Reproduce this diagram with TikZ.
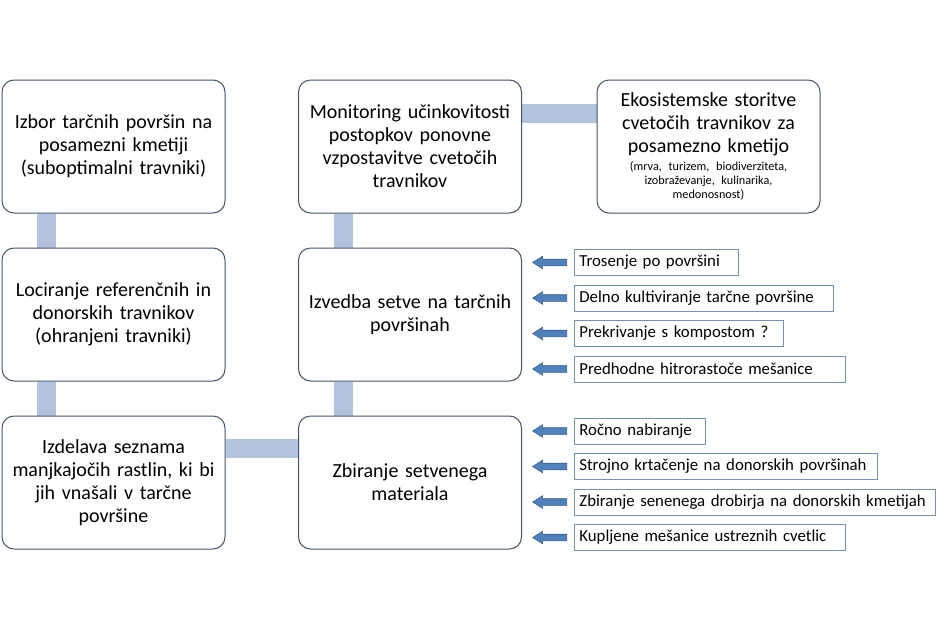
\documentclass[tikz,border=0pt]{standalone}
\usepackage{fontspec}
\setmainfont{Carlito}
\usetikzlibrary{shapes.arrows,backgrounds}
\definecolor{boxline}{HTML}{44546A}
\definecolor{barfill}{HTML}{B4C3DD}
\definecolor{arrfill}{HTML}{4F81BD}
\definecolor{arrline}{HTML}{385D8A}
\definecolor{smallline}{HTML}{7392B8}
\tikzset{
  bigbox/.style={draw=boxline, line width=1pt, rounded corners=12pt, fill=white,
    minimum width=223pt, minimum height=133pt, text width=218pt, align=center,
    font=\fontsize{20}{23}\selectfont, inner sep=0pt},
  bar/.style={line width=19pt, draw=barfill},
  smallbox/.style={draw=smallline, line width=0.8pt, anchor=west, minimum height=26pt,
    inner xsep=5pt, inner ysep=0pt, align=left, font=\fontsize{16.8}{19}\selectfont},
  leftarrow/.style={single arrow, shape border rotate=180, fill=arrfill, draw=arrline,
    line width=0.6pt, inner sep=3pt, single arrow head extend=3pt,
    single arrow tip angle=65, minimum height=34pt, single arrow head indent=0pt}
}
\begin{document}
\begin{tikzpicture}[x=1pt,y=-1pt]
\useasboundingbox (0,0) rectangle (939,630);
\node[bigbox] (A) at (113.5,146.5) {Izbor tarčnih površin na\\ posamezni kmetiji\\ (suboptimalni travniki)};
\node[bigbox] (B) at (113.5,314.5) {Lociranje referenčnih in\\ donorskih travnikov\\ (ohranjeni travniki)};
\node[bigbox] (C) at (113.5,482.5) {Izdelava seznama\\ manjkajočih rastlin, ki bi\\ jih vnašali v tarčne\\ površine};
\node[bigbox] (D) at (410,482.5) {Zbiranje setvenega\\ materiala};
\node[bigbox] (E) at (410,314.5) {Izvedba setve na tarčnih\\ površinah};
\node[bigbox] (F) at (410,146.5) {Monitoring učinkovitosti\\ postopkov ponovne\\ vzpostavitve cvetočih\\ travnikov};
\node[bigbox] (G) at (708.5,146.5) {Ekosistemske storitve\\ cvetočih travnikov za\\ posamezno kmetijo\par\vspace{4pt}
  {\fontsize{12.2}{13.8}\selectfont (mrva, turizem, biodiverziteta,\\ izobraževanje, kulinarika,\\ medonosnost)\par}};
\begin{scope}[on background layer]
\draw[bar] ([xshift=-67.5pt]A.south) -- ([xshift=-67.5pt]B.north);
\draw[bar] ([xshift=-67.5pt]B.south) -- ([xshift=-67.5pt]C.north);
\draw[bar] ([yshift=34.5pt]C.east) -- ([yshift=34.5pt]D.west);
\draw[bar] ([xshift=-67pt]D.north) -- ([xshift=-67pt]E.south);
\draw[bar] ([xshift=-67pt]E.north) -- ([xshift=-67pt]F.south);
\draw[bar] ([yshift=33.5pt]F.east) -- ([yshift=33.5pt]G.west);
\end{scope}
% upper list
\node[smallbox, text width=154pt] (s1) at (574,262.5) {Trosenje po površini};
\node[smallbox, text width=249pt] (s2) at (574,298) {Delno kultiviranje tarčne površine};
\node[smallbox, text width=199pt] (s3) at (574,333.5) {Prekrivanje s kompostom ?};
\node[smallbox, text width=261pt] (s4) at (574,369) {Predhodne hitrorastoče mešanice};
% lower list
\node[smallbox, text width=121pt] (t1) at (574,431) {Ročno nabiranje};
\node[smallbox, text width=293pt] (t2) at (574,466.5) {Strojno krtačenje na donorskih površinah};
\node[smallbox, text width=351pt] (t3) at (574,502) {Zbiranje senenega drobirja na donorskih kmetijah};
\node[smallbox, text width=261pt] (t4) at (574,537.5) {Kupljene mešanice ustreznih cvetlic};
% arrows
\foreach \n in {s1,s2,s3,s4,t1,t2,t3,t4}{
  \node[leftarrow, anchor=east] (a\n) at ([xshift=-7pt]\n.west) {};
}
\end{tikzpicture}
\end{document}
